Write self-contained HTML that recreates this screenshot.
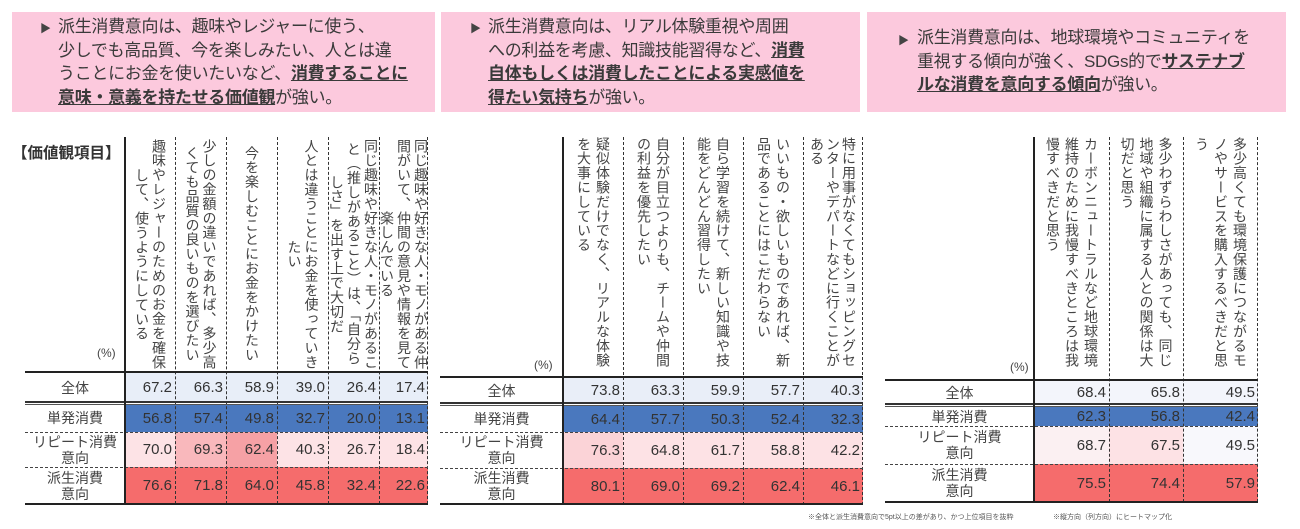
<!DOCTYPE html>
<html><head><meta charset="utf-8"><style>
*{margin:0;padding:0;box-sizing:border-box}
body{width:1300px;height:529px;background:#fff;position:relative;overflow:hidden;font-family:"Liberation Sans","Noto Sans CJK JP",sans-serif;color:#333}
.a{position:absolute}
.box{position:absolute;top:12px;height:100px;background:#fcc9dd}
.bt{position:absolute;font-size:17px;line-height:23.5px;white-space:nowrap;color:#3a3a3a;letter-spacing:-0.3px}
.bt b{text-decoration:underline;font-weight:bold}
.bul{position:absolute;font-size:11px;color:#444}
.hc{position:absolute;top:137px;height:234px;display:flex;justify-content:center}
.hc div{writing-mode:vertical-rl;font-size:14px;letter-spacing:0.4px;color:#444;height:234px;white-space:nowrap}
.h1 div{text-align:center;line-height:17px}
.h2 div{line-height:19px}
.vd{position:absolute;width:0;border-left:1.5px dashed #333}
.vs{position:absolute;width:2px;background:#222}
.hl{position:absolute;height:2px;background:#222}
.hd{position:absolute;height:0;border-top:1.5px dashed #444}
.hdbl{position:absolute;height:4px;border-top:2px solid #333;border-bottom:1px solid #555}
.c{position:absolute;text-align:right;padding-right:3px;font-family:"Liberation Sans Narrow","Liberation Sans",sans-serif;font-size:15px;color:#333;display:flex;align-items:center;justify-content:flex-end}
.l{position:absolute;text-align:center;font-size:14px;line-height:16px;color:#444;display:flex;align-items:center;justify-content:center}
.pc{position:absolute;font-size:12px;color:#444}
.fn{position:absolute;top:512px;font-size:7px;color:#555;white-space:nowrap}
</style></head><body>

<!-- boxes -->
<div class="box" style="left:12px;width:423px"></div>
<div class="box" style="left:441px;width:419px"></div>
<div class="box" style="left:867px;width:419px"></div>
<div class="bul" style="left:40px;top:20px">▶</div>
<div class="bt" style="left:58px;top:15px">派生消費意向は、趣味やレジャーに使う、<br>少しでも高品質、今を楽しみたい、人とは違<br>うことにお金を使いたいなど、<b>消費することに</b><br><b>意味・意義を持たせる価値観</b>が強い。</div>
<div class="bul" style="left:470px;top:20px">▶</div>
<div class="bt" style="left:488px;top:15px">派生消費意向は、リアル体験重視や周囲<br>への利益を考慮、知識技能習得など、<b>消費</b><br><b>自体もしくは消費したことによる実感値を</b><br><b>得たい気持ち</b>が強い。</div>
<div class="bul" style="left:898px;top:32px">▶</div>
<div class="bt" style="left:917px;top:26px">派生消費意向は、地球環境やコミュニティを<br>重視する傾向が強く、SDGs的で<b>サステナブ</b><br><b>ルな消費を意向する傾向</b>が強い。</div>

<!-- TABLE 1 -->
<div class="a" style="left:12px;top:141px;font-size:15.5px;color:#333;font-weight:bold">【価値観項目】</div>
<div class="pc" style="left:97px;top:346px">(%)</div>
<div class="hc h1" style="left:125px;width:50px"><div>趣味やレジャーのためのお金を確保<br>して、使うようにしている</div></div>
<div class="hc h1" style="left:175px;width:51px"><div>少しの金額の違いであれば、多少高<br>くても品質の良いものを選びたい</div></div>
<div class="hc h1" style="left:226px;width:51px"><div>今を楽しむことにお金をかけたい</div></div>
<div class="hc h1" style="left:277px;width:51px"><div>人とは違うことにお金を使っていき<br>たい</div></div>
<div class="hc h1" style="left:328px;width:51px"><div>同じ趣味や好きな人・モノがあるこ<br>と（推しがあること）は、「自分ら<br>しさ」を出す上で大切だ</div></div>
<div class="hc h1" style="left:379px;width:49px"><div>同じ趣味や好きな人・モノがある仲<br>間がいて、仲間の意見や情報を見て<br>楽しんでいる</div></div>

<!-- t1 cells -->
<div class="c" style="left:125px;top:373px;width:303px;height:29px;background:#e8eef8"></div>
<div class="c" style="left:125px;top:404px;width:303px;height:28px;background:#4a78be"></div>
<div class="c" style="left:125px;top:432px;width:303px;height:35px;background:#fde3e6"></div>
<div class="c" style="left:175px;top:432px;width:51px;height:35px;background:#f9b8bc"></div>
<div class="c" style="left:226px;top:432px;width:51px;height:35px;background:#f6a1a5"></div>
<div class="c" style="left:125px;top:467px;width:303px;height:37px;background:#f56c6c"></div>

<div class="l" style="left:25px;top:373px;width:100px;height:29px">全体</div>
<div class="l" style="left:25px;top:404px;width:100px;height:28px">単発消費</div>
<div class="l" style="left:25px;top:432px;width:100px;height:35px">リピート消費<br>意向</div>
<div class="l" style="left:25px;top:467px;width:100px;height:37px">派生消費<br>意向</div>

<div class="c" style="left:125px;top:373px;width:50px;height:29px">67.2</div><div class="c" style="left:175px;top:373px;width:51px;height:29px">66.3</div><div class="c" style="left:226px;top:373px;width:51px;height:29px">58.9</div><div class="c" style="left:277px;top:373px;width:51px;height:29px">39.0</div><div class="c" style="left:328px;top:373px;width:51px;height:29px">26.4</div><div class="c" style="left:379px;top:373px;width:49px;height:29px">17.4</div>
<div class="c" style="left:125px;top:404px;width:50px;height:28px">56.8</div><div class="c" style="left:175px;top:404px;width:51px;height:28px">57.4</div><div class="c" style="left:226px;top:404px;width:51px;height:28px">49.8</div><div class="c" style="left:277px;top:404px;width:51px;height:28px">32.7</div><div class="c" style="left:328px;top:404px;width:51px;height:28px">20.0</div><div class="c" style="left:379px;top:404px;width:49px;height:28px">13.1</div>
<div class="c" style="left:125px;top:432px;width:50px;height:35px">70.0</div><div class="c" style="left:175px;top:432px;width:51px;height:35px">69.3</div><div class="c" style="left:226px;top:432px;width:51px;height:35px">62.4</div><div class="c" style="left:277px;top:432px;width:51px;height:35px">40.3</div><div class="c" style="left:328px;top:432px;width:51px;height:35px">26.7</div><div class="c" style="left:379px;top:432px;width:49px;height:35px">18.4</div>
<div class="c" style="left:125px;top:467px;width:50px;height:37px">76.6</div><div class="c" style="left:175px;top:467px;width:51px;height:37px">71.8</div><div class="c" style="left:226px;top:467px;width:51px;height:37px">64.0</div><div class="c" style="left:277px;top:467px;width:51px;height:37px">45.8</div><div class="c" style="left:328px;top:467px;width:51px;height:37px">32.4</div><div class="c" style="left:379px;top:467px;width:49px;height:37px">22.6</div>

<div class="vd" style="left:175px;top:137px;height:367px"></div><div class="vd" style="left:226px;top:137px;height:367px"></div><div class="vd" style="left:277px;top:137px;height:367px"></div><div class="vd" style="left:328px;top:137px;height:367px"></div><div class="vd" style="left:379px;top:137px;height:367px"></div><div class="vd" style="left:427px;top:137px;height:367px"></div>
<div class="hl" style="left:25px;top:371px;width:403px"></div>
<div class="hdbl" style="left:25px;top:401px;width:403px"></div>
<div class="hd" style="left:25px;top:432px;width:403px"></div>
<div class="hd" style="left:25px;top:467px;width:403px"></div>
<div class="hl" style="left:25px;top:503px;width:403px"></div>
<div class="vs" style="left:124px;top:137px;height:368px"></div>

<!-- TABLE 2 -->
<div class="pc" style="left:534px;top:358px">(%)</div>
<div class="hc h2" style="left:563px;width:60px"><div>疑似体験だけでなく、リアルな体験<br>を大事にしている</div></div>
<div class="hc h2" style="left:623px;width:60px"><div>自分が目立つよりも、チームや仲間<br>の利益を優先したい</div></div>
<div class="hc h2" style="left:683px;width:60px"><div>自ら学習を続けて、新しい知識や技<br>能をどんどん習得したい</div></div>
<div class="hc h2" style="left:743px;width:60px"><div>いいもの・欲しいものであれば、新<br>品であることにはこだわらない</div></div>
<div class="hc h2" style="left:803px;width:60px;line-height:16px"><div style="line-height:16px">特に用事がなくてもショッピングセ<br>ンターやデパートなどに行くことが<br>ある</div></div>

<div class="c" style="left:563px;top:378px;width:300px;height:25px;background:#e9eef8"></div>
<div class="c" style="left:563px;top:406px;width:300px;height:26px;background:#4a78be"></div>
<div class="c" style="left:563px;top:432px;width:300px;height:36px;background:#fde2e5"></div>
<div class="c" style="left:563px;top:432px;width:60px;height:36px;background:#fbd3d7"></div>
<div class="c" style="left:563px;top:468px;width:300px;height:36px;background:#f56c6c"></div>

<div class="l" style="left:440px;top:378px;width:123px;height:25px">全体</div>
<div class="l" style="left:440px;top:406px;width:123px;height:26px">単発消費</div>
<div class="l" style="left:440px;top:432px;width:123px;height:36px">リピート消費<br>意向</div>
<div class="l" style="left:440px;top:468px;width:123px;height:36px">派生消費<br>意向</div>

<div class="c" style="left:563px;top:378px;width:60px;height:25px">73.8</div><div class="c" style="left:623px;top:378px;width:60px;height:25px">63.3</div><div class="c" style="left:683px;top:378px;width:60px;height:25px">59.9</div><div class="c" style="left:743px;top:378px;width:60px;height:25px">57.7</div><div class="c" style="left:803px;top:378px;width:60px;height:25px">40.3</div>
<div class="c" style="left:563px;top:406px;width:60px;height:26px">64.4</div><div class="c" style="left:623px;top:406px;width:60px;height:26px">57.7</div><div class="c" style="left:683px;top:406px;width:60px;height:26px">50.3</div><div class="c" style="left:743px;top:406px;width:60px;height:26px">52.4</div><div class="c" style="left:803px;top:406px;width:60px;height:26px">32.3</div>
<div class="c" style="left:563px;top:432px;width:60px;height:36px">76.3</div><div class="c" style="left:623px;top:432px;width:60px;height:36px">64.8</div><div class="c" style="left:683px;top:432px;width:60px;height:36px">61.7</div><div class="c" style="left:743px;top:432px;width:60px;height:36px">58.8</div><div class="c" style="left:803px;top:432px;width:60px;height:36px">42.2</div>
<div class="c" style="left:563px;top:468px;width:60px;height:36px">80.1</div><div class="c" style="left:623px;top:468px;width:60px;height:36px">69.0</div><div class="c" style="left:683px;top:468px;width:60px;height:36px">69.2</div><div class="c" style="left:743px;top:468px;width:60px;height:36px">62.4</div><div class="c" style="left:803px;top:468px;width:60px;height:36px">46.1</div>

<div class="vd" style="left:623px;top:137px;height:368px"></div><div class="vd" style="left:683px;top:137px;height:368px"></div><div class="vd" style="left:743px;top:137px;height:368px"></div><div class="vd" style="left:803px;top:137px;height:368px"></div><div class="vd" style="left:862px;top:137px;height:368px"></div>
<div class="hl" style="left:440px;top:376px;width:423px"></div>
<div class="hdbl" style="left:440px;top:402px;width:423px"></div>
<div class="hd" style="left:440px;top:432px;width:423px"></div>
<div class="hd" style="left:440px;top:468px;width:423px"></div>
<div class="hl" style="left:440px;top:503px;width:423px"></div>
<div class="vs" style="left:562px;top:137px;height:368px"></div>

<!-- TABLE 3 -->
<div class="pc" style="left:1010px;top:360px">(%)</div>
<div class="hc h2" style="left:1034px;width:75px"><div>カーボンニュートラルなど地球環境<br>維持のために我慢すべきところは我<br>慢すべきだと思う</div></div>
<div class="hc h2" style="left:1109px;width:74px"><div>多少わずらわしさがあっても、同じ<br>地域や組織に属する人との関係は大<br>切だと思う</div></div>
<div class="hc h2" style="left:1183px;width:75px"><div>多少高くても環境保護につながるモ<br>ノやサービスを購入するべきだと思<br>う</div></div>

<div class="c" style="left:1034px;top:381px;width:224px;height:23px;background:#f3f5fb"></div>
<div class="c" style="left:1034px;top:407px;width:224px;height:19px;background:#4a78be"></div>
<div class="c" style="left:1034px;top:426px;width:224px;height:38px;background:#f8f8fc"></div>
<div class="c" style="left:1034px;top:426px;width:75px;height:38px;background:#fbf0f2"></div>
<div class="c" style="left:1109px;top:426px;width:74px;height:38px;background:#fde2e5"></div>
<div class="c" style="left:1034px;top:464px;width:224px;height:38px;background:#f56c6c"></div>

<div class="l" style="left:885px;top:381px;width:149px;height:23px">全体</div>
<div class="l" style="left:885px;top:407px;width:149px;height:19px">単発消費</div>
<div class="l" style="left:885px;top:426px;width:149px;height:38px">リピート消費<br>意向</div>
<div class="l" style="left:885px;top:464px;width:149px;height:38px">派生消費<br>意向</div>

<div class="c" style="left:1034px;top:381px;width:75px;height:23px">68.4</div><div class="c" style="left:1109px;top:381px;width:74px;height:23px">65.8</div><div class="c" style="left:1183px;top:381px;width:75px;height:23px">49.5</div>
<div class="c" style="left:1034px;top:407px;width:75px;height:19px">62.3</div><div class="c" style="left:1109px;top:407px;width:74px;height:19px">56.8</div><div class="c" style="left:1183px;top:407px;width:75px;height:19px">42.4</div>
<div class="c" style="left:1034px;top:426px;width:75px;height:38px">68.7</div><div class="c" style="left:1109px;top:426px;width:74px;height:38px">67.5</div><div class="c" style="left:1183px;top:426px;width:75px;height:38px">49.5</div>
<div class="c" style="left:1034px;top:464px;width:75px;height:38px">75.5</div><div class="c" style="left:1109px;top:464px;width:74px;height:38px">74.4</div><div class="c" style="left:1183px;top:464px;width:75px;height:38px">57.9</div>

<div class="vd" style="left:1109px;top:137px;height:365px"></div><div class="vd" style="left:1183px;top:137px;height:365px"></div><div class="vd" style="left:1257px;top:137px;height:365px"></div>
<div class="hl" style="left:885px;top:379px;width:373px"></div>
<div class="hdbl" style="left:885px;top:403px;width:373px"></div>
<div class="hd" style="left:885px;top:426px;width:373px"></div>
<div class="hd" style="left:885px;top:464px;width:373px"></div>
<div class="hl" style="left:885px;top:501px;width:373px"></div>
<div class="vs" style="left:1033px;top:137px;height:366px"></div>

<div class="fn" style="left:808px">※全体と派生消費意向で5pt以上の差があり、かつ上位項目を抜粋</div>
<div class="fn" style="left:1053px">※縦方向（列方向）にヒートマップ化</div>
</body></html>
